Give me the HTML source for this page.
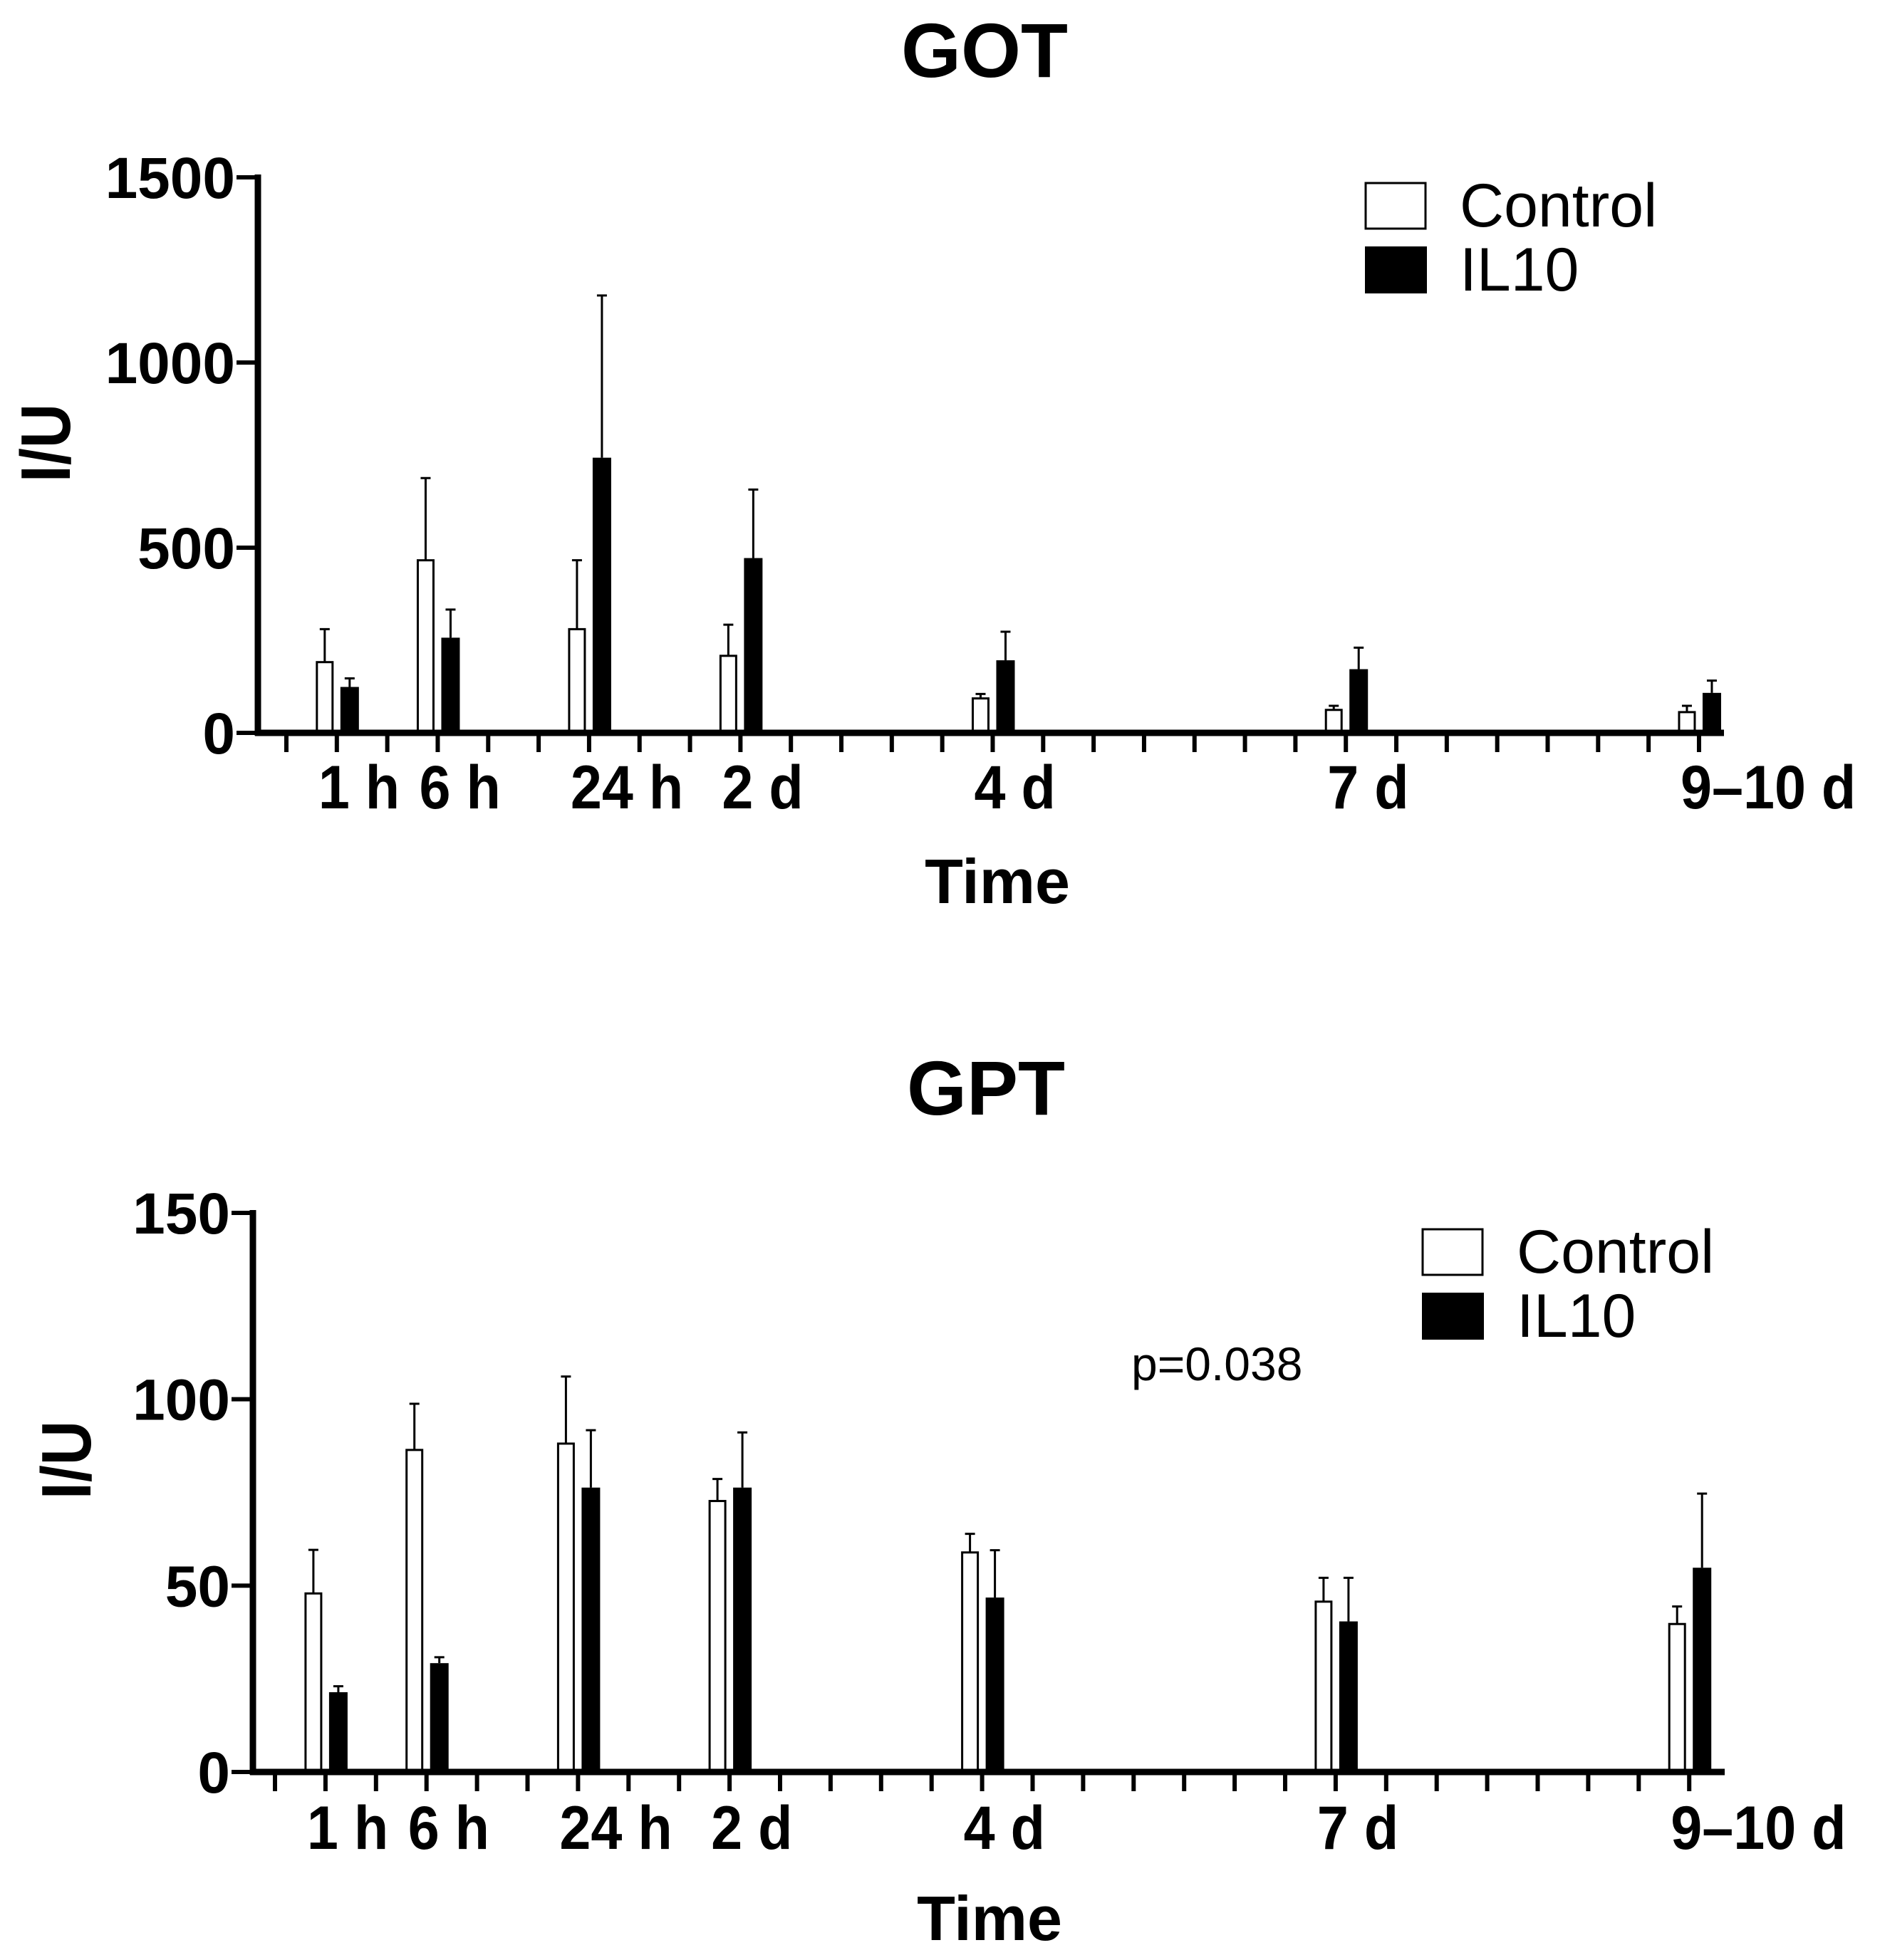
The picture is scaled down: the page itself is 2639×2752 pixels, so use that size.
<!DOCTYPE html>
<html><head><meta charset="utf-8">
<style>html,body{margin:0;padding:0;background:#fff}svg{display:block}text{font-family:"Liberation Sans",Arial,sans-serif}</style>
</head><body>
<svg id="chart" width="2639" height="2752" viewBox="0 0 2639 2752" xmlns="http://www.w3.org/2000/svg">
<rect width="2639" height="2752" fill="#fff"/>
</svg>
<script>
const categories = ["1 h","6 h","24 h","2 d","4 d","7 d","9\u201310 d"];
const timeSlot = [1,3,6,9,14,21,28];
const gotControl = [191,466,280,208,93,62,56];
const gotControlErr = [280,688,466,292,105,73,73];
const gotIL10 = [124,257,743,472,196,172,108];
const gotIL10Err = [147,333,1181,657,273,230,141];
const gotTicks = [0,500,1000,1500];
const gptControl = [47.9,86.4,88.1,72.7,58.9,45.7,39.7];
const gptControlErr = [59.6,98.8,106.1,78.6,63.9,52.1,44.4];
const gptIL10 = [21.4,29.2,76.3,76.3,46.8,40.4,54.8];
const gptIL10Err = [23.0,30.8,91.7,91.1,59.5,52.1,74.7];
const gptTicks = [0,50,100,150];

const NS = "http://www.w3.org/2000/svg";
const svg = document.getElementById('chart');
function mk(tag, attrs, parent, txt){
  const e = document.createElementNS(NS, tag);
  for (const k in attrs) e.setAttribute(k, attrs[k]);
  if (txt !== undefined) e.textContent = txt;
  (parent||svg).appendChild(e);
  return e;
}

function drawChart(c){
  const g = mk('g', {});
  
  
  const yS = v => c.y0 - (v / c.yMax) * (c.y0 - c.yTop);
  const xS = s => c.x0 + s * c.dx;
  const t = mk('text', {x:c.titleX, y:c.titleY, 'font-size':108, 'font-weight':'bold', 'text-anchor':'middle'}, g, c.title);
  
  
  for (let i = 0; i < categories.length; i++){
    const tx = xS(timeSlot[i]);
    const vc = c.ctrl[i], vi = c.il[i];
    const ec = mk('path', {d:`M${tx-17},${yS(vc)} V${yS(c.ctrlErr[i])} M${tx-24},${yS(c.ctrlErr[i])} H${tx-10}`, stroke:'#000','stroke-width':3, fill:'none'}, g);
    
    
    const ei = mk('path', {d:`M${tx+18},${yS(vi)} V${yS(c.ilErr[i])} M${tx+11},${yS(c.ilErr[i])} H${tx+25}`, stroke:'#000','stroke-width':3, fill:'none'}, g);
    
    
    const bc = mk('rect', {x:tx-28, y:yS(vc), width:22, height:c.y0-yS(vc), fill:'#fff', stroke:'#000','stroke-width':3}, g);
    
    
    const bi = mk('rect', {x:tx+5, y:yS(vi), width:26, height:c.y0-yS(vi), fill:'#000'}, g);
    
    
    const lb = mk('text', {x:0, y:0, 'font-size':86, 'font-weight':'bold', transform:`translate(${tx-26},${c.tickLabelY}) scale(0.92,1)`}, g, categories[i]);
    
    
  }
  const ya = mk('line', {x1:c.yAxisX, y1:c.yTop-4, x2:c.yAxisX, y2:c.y0+4, stroke:'#000','stroke-width':9}, g);
  
  
  const xa = mk('line', {x1:c.yAxisX-4, y1:c.y0, x2:c.xEnd, y2:c.y0, stroke:'#000','stroke-width':9}, g);
  
  
  for (let s = 0; s <= 28; s++){
    const tk = mk('line', {x1:xS(s), y1:c.y0, x2:xS(s), y2:c.y0+27, stroke:'#000','stroke-width':6}, g);
    
    
  }
  c.ticks.forEach((v, k) => {
    const tk = mk('line', {x1:c.yAxisX-30, y1:yS(v), x2:c.yAxisX, y2:yS(v), stroke:'#000','stroke-width':6}, g);
    
    
    const tl = mk('text', {x:c.yAxisX-32, y:yS(v)+29, 'font-size':82, 'font-weight':'bold', 'text-anchor':'end'}, g, String(v));
    
    
  });
  const yt = mk('text', {x:0, y:0, 'font-size':98, 'font-weight':'bold', 'text-anchor':'middle', transform:`translate(${c.yTitleX},${c.yTitleY}) rotate(-90) scale(0.88,1)`}, g, 'I/U');
  
  
  const xt = mk('text', {x:c.xTitleX, y:c.xTitleY, 'font-size':88, 'font-weight':'bold', 'text-anchor':'middle'}, g, 'Time');
  
  
  const lg = mk('g', {}, g);
  
  
  const b1 = mk('rect', {x:c.legX, y:c.legY, width:84, height:64, fill:'#fff', stroke:'#000','stroke-width':3}, lg);
  
  
  const b2 = mk('rect', {x:c.legX-1, y:c.legY+89, width:87, height:66, fill:'#000'}, lg);
  
  
  const l1 = mk('text', {x:c.legX+132, y:c.legY+61, 'font-size':86}, lg, 'Control');
  
  
  const l2 = mk('text', {x:c.legX+132, y:c.legY+151, 'font-size':86}, lg, 'IL10');
  
  
}

drawChart({id:'got', title:'GOT', titleX:1382, titleY:108, x0:402, dx:70.82, xEnd:2420,
  yAxisX:362, y0:1029, yTop:249, yMax:1500, ticks:gotTicks,
  ctrl:gotControl, ctrlErr:gotControlErr, il:gotIL10, ilErr:gotIL10Err,
  tickLabelY:1135, yTitleX:98, yTitleY:622, xTitleX:1400, xTitleY:1268, legX:1917, legY:257});
drawChart({id:'gpt', title:'GPT', titleX:1384, titleY:1565, x0:386, dx:70.9, xEnd:2421,
  yAxisX:355, y0:2488, yTop:1703, yMax:150, ticks:gptTicks,
  ctrl:gptControl, ctrlErr:gptControlErr, il:gptIL10, ilErr:gptIL10Err,
  tickLabelY:2596, yTitleX:127, yTitleY:2050, xTitleX:1389, xTitleY:2724, legX:1997, legY:1726});
const pv = mk('text', {x:1588, y:1938, 'font-size':66}, svg, 'p=0.038');


</script>
</body></html>
